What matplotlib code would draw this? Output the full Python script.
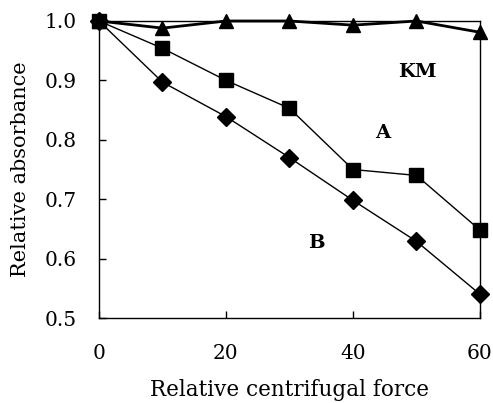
import matplotlib
matplotlib.use("Agg")
import matplotlib.pyplot as plt

force = [0, 10, 20, 30, 40, 50, 60]
km = [1.0, 0.988, 1.0, 1.0, 0.993, 1.0, 0.981]
a = [1.0, 0.954, 0.900, 0.853, 0.750, 0.740, 0.648]
b = [1.0, 0.897, 0.839, 0.770, 0.698, 0.629, 0.540]
xticks = [0, 20, 40, 60]
yticks = [0.5, 0.6, 0.7, 0.8, 0.9, 1.0]

plt.rcParams['font.family'] = ['DejaVu Serif']
fig = plt.figure(figsize=(4.93, 4.03), dpi=100)
ax = fig.add_axes([0.2008, 0.2109, 0.7728, 0.737])

ax.plot(force, b, color='black', lw=1.0, marker='D', ms=9, clip_on=False, zorder=3)
ax.plot(force, a, color='black', lw=1.0, marker='s', ms=9.5, clip_on=False, zorder=3)
ax.plot(force, km, color='black', lw=2.0, marker='^', ms=10, clip_on=False, zorder=4)

ax.set_xlim(0, 60)
ax.set_ylim(0.5, 1.0)
ax.set_xticks(xticks)
ax.set_yticks(yticks)
ax.set_xticklabels([str(t) for t in xticks])
ax.set_yticklabels([f"{t:.1f}" for t in yticks])
ax.tick_params(direction='in', length=5, width=1, labelsize=14.5, colors='black')
ax.tick_params(axis='y', pad=16)
ax.tick_params(axis='x', pad=19)
for s in ax.spines.values():
    s.set_linewidth(1.0)

ax.text(50.2, 0.914, 'KM', fontsize=14, fontweight='bold', ha='center', va='center')
ax.text(44.6, 0.811, 'A', fontsize=14, fontweight='bold', ha='center', va='center')
ax.text(34.2, 0.626, 'B', fontsize=14, fontweight='bold', ha='center', va='center')

ax.set_xlabel('Relative centrifugal force', fontsize=15.5)
ax.set_ylabel('Relative absorbance', fontsize=15)
ax.xaxis.set_label_coords(0.5, -0.242)
ax.yaxis.set_label_coords(-0.207, 0.5)
ax.xaxis.label.set_va('center')
ax.yaxis.label.set_va('center')

fig.savefig('out.png', dpi=100)
